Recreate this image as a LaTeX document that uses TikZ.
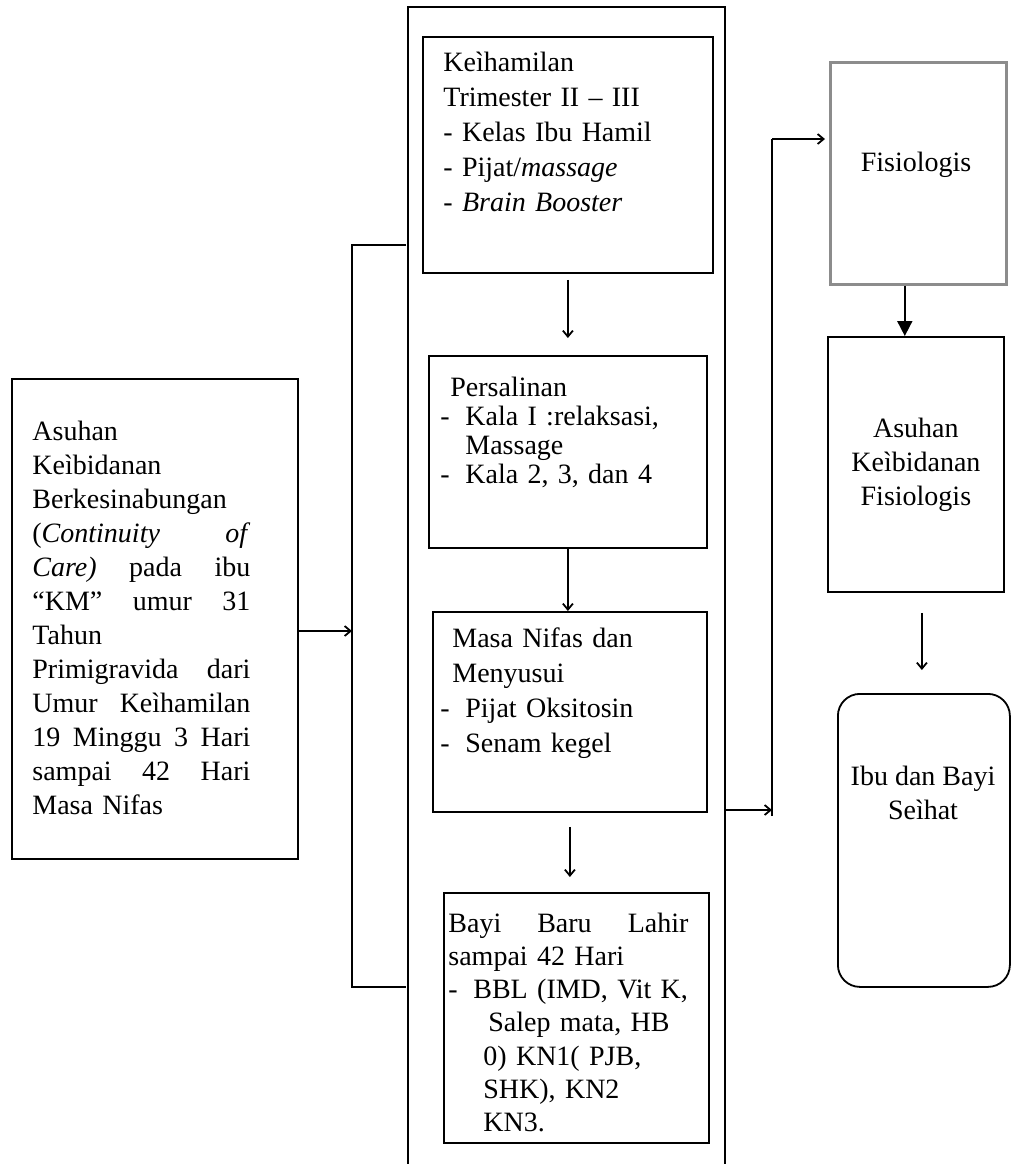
\documentclass[tikz,border=0pt]{standalone}
\usepackage{fontspec}
\setmainfont{Liberation Serif}
\usetikzlibrary{arrows.meta}
\definecolor{abu}{RGB}{140,140,140}
\newcommand\jline[1]{\leavevmode\hbox to\linewidth{#1}}

\begin{document}
\begin{tikzpicture}[x=0.5pt,y=-0.5pt,font=\fontsize{14pt}{17pt}\selectfont,
  box/.style={draw,line width=0.9pt,inner sep=0pt,anchor=north west},
  txt/.style={inner sep=0pt,anchor=base west,align=left},
  arr/.style={line width=0.9pt,-{Straight Barb[length=3pt,width=5pt]}},
  line/.style={line width=0.9pt}]
\useasboundingbox (0,0) rectangle (1011,1164);

% kotak kiri
\node[box,minimum width=143pt,minimum height=240pt] (asuhan) at (11,378) {};
\node[txt,text width=109pt] (tasuhan) at (32,440) {Asuhan\\ Keìbidanan\\ Berkesinabungan\\
  \jline{(\textit{Continuity}\hfill\textit{of}}\\ \jline{\textit{Care)}\hfill pada\hfill ibu}\\
  \jline{“KM”\hfill umur\hfill 31}\\ Tahun\\ \jline{Primigravida\hfill dari}\\
  \jline{Umur\hfill Keìhamilan}\\ \jline{19\hfill Minggu\hfill 3\hfill Hari}\\
  \jline{sampai\hfill 42\hfill Hari}\\ Masa Nifas};

% bingkai tengah
\draw[line] (408,1164) |- (725,7) -- (725,1164);
\coordinate (brk) at (352,631);
\coordinate (brkT) at (406,245);
\coordinate (brkB) at (406,987);
\draw[arr] (asuhan.east |- brk) -- (brk);
\draw[line] (brkT) -| (brk) |- (brkB);

\node[box,minimum width=145pt,minimum height=118pt] (keh) at (422,36) {};
\node[txt,text width=130pt,font=\fontsize{14pt}{17.5pt}\selectfont] (tkeh) at (443,71)
  {Keìhamilan\\ Trimester II – III\\ - Kelas Ibu Hamil\\ - Pijat/\textit{massage}\\ - \textit{Brain Booster}};

\node[box,minimum width=139pt,minimum height=96pt] (per) at (428,355) {};
\node[txt,text width=130pt,font=\fontsize{14pt}{14.5pt}\selectfont] (tper) at (440,396)
  {\hspace{5pt}Persalinan\\ \makebox[12.5pt][l]{-}Kala I :relaksasi,\\ \hspace{12.5pt}Massage\\
   \makebox[12.5pt][l]{-}Kala 2, 3, dan 4};

\node[box,minimum width=137pt,minimum height=100pt] (nif) at (432,611) {};
\node[txt,text width=130pt,font=\fontsize{14pt}{17.5pt}\selectfont] (tnif) at (440,647)
  {\hspace{6pt}Masa Nifas dan\\ \hspace{6pt}Menyusui\\ \makebox[12.5pt][l]{-}Pijat Oksitosin\\
   \makebox[12.5pt][l]{-}Senam kegel};

\node[box,minimum width=132.5pt,minimum height=125pt] (bbl) at (443,892) {};
\node[txt,text width=120pt,font=\fontsize{14pt}{16.65pt}\selectfont] (tbbl) at (448,932)
  {\jline{Bayi\hfill Baru\hfill Lahir}\\ sampai 42 Hari\\ \makebox[12.5pt][l]{-}BBL (IMD, Vit K,\\
   \hspace{20pt}Salep mata, HB\\ \hspace{17.5pt}0) KN1( PJB,\\ \hspace{17.5pt}SHK), KN2\\
   \hspace{17.5pt}KN3.};

\draw[arr,shorten <=3pt,shorten >=8.5pt] (keh.south) -- (keh.south |- per.north);
\draw[arr] (per.south) -- (per.south |- nif.north);
\draw[arr,shorten <=7pt,shorten >=7.5pt] (nif.south) -- (nif.south |- bbl.north);

% sisi kanan
\node[box,draw=abu,line width=1.3pt,minimum width=88pt,minimum height=111pt] (fis) at (829,61) {};
\node (tfis) at (916,165) {Fisiologis};
\node[box,minimum width=88pt,minimum height=127.5pt,align=center] (afis) at (827,336)
  {Asuhan\\ Keìbidanan\\ Fisiologis};
\node[box,rounded corners=11pt,minimum width=86pt,minimum height=146.5pt] (sehat) at (837,693) {};
\node[align=center] (tsehat) at (923,793) {Ibu dan Bayi\\ Seìhat};

\coordinate (frR) at (725,810);
\coordinate (jn) at (772,810);
\coordinate (jnB) at (772,816);
\coordinate (jnT) at (772,139);
\draw[arr] (frR) -- (jn);
\draw[line] (jnB) -- (jnT);
\draw[arr,shorten >=2pt] (jnT) -- (jnT -| fis.west);

\draw[line,-{Triangle[length=7.5pt,width=7.5pt]}] ([xshift=-6.75pt]fis.south) -- ([xshift=-6.75pt]fis.south |- afis.north);
\draw[arr,shorten <=10pt,shorten >=11.5pt] ([xshift=3pt]afis.south) -- ([xshift=3pt]afis.south |- sehat.north);
\end{tikzpicture}
\end{document}
